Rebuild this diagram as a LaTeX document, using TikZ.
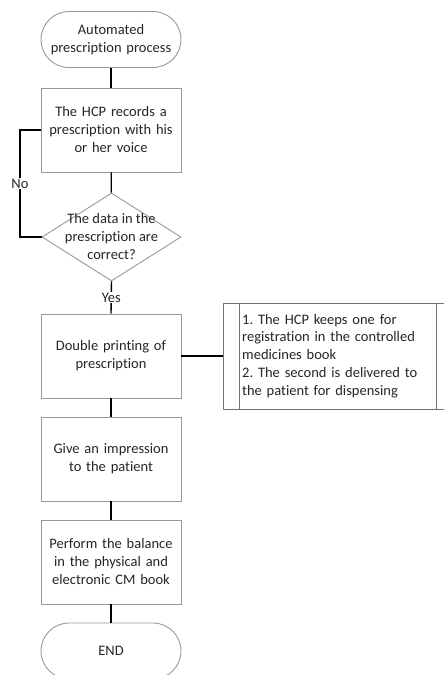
\documentclass[tikz,border=0pt]{standalone}
\usepackage{fontspec}
\setmainfont{Carlito}[Ligatures=NoCommon]
\usetikzlibrary{shapes.geometric}
\begin{document}
\frenchspacing
\begin{tikzpicture}[x=1pt,y=1pt,
  font=\fontsize{14.5}{18}\selectfont,
  every node/.style={text=black!85},
  shp/.style={draw=black!40, line width=0.9pt, fill=white, align=center, text width=132pt, inner sep=0pt},
  procbox/.style={shp, rectangle, minimum width=140pt, minimum height=84pt},
  termbox/.style={shp, rectangle, rounded corners=28pt, minimum width=140pt, minimum height=56pt},
  decbox/.style={draw=black!40, line width=0.9pt, fill=white, diamond, inner sep=0pt, minimum width=139pt, minimum height=88pt},
  conn/.style={draw=black, line width=1.4pt},
  lbl/.style={font=\fontsize{14.5}{18}\selectfont, fill=white, inner sep=1pt}
]
\useasboundingbox (0,0) rectangle (444,-675);
\clip (0,0) rectangle (444,-675);
\fill[white] (0,0) rectangle (444,-675);

\node[termbox] (start) at (111,-39.5) {Automated\\prescription process};
\node[procbox] (b1) at (111,-130) {The HCP records a\\prescription with his\\or her voice};
\node[decbox] (dia) at (111.5,-237) {};
\node[align=center, inner sep=0pt] (diatext) at (dia.center) {The data in the\\prescription are\\correct?};
\node[procbox] (b2) at (111,-356) {Double printing of\\prescription};
\node[procbox] (b3) at (111,-459) {Give an impression\\to the patient};
\node[procbox] (b4) at (111,-562) {Perform the balance\\in the physical and\\electronic CM book};
\node[termbox] (end) at (111,-651) {END};

\node[draw=black!55, line width=0.9pt, rectangle, minimum width=229pt, minimum height=106pt, inner sep=0pt] (ann) at (337.5,-356) {};
\coordinate (annl1t) at (239,-303);
\coordinate (annl1b) at (239,-409);
\coordinate (annl2t) at (436,-303);
\coordinate (annl2b) at (436,-409);
\draw[draw=black!55, line width=0.9pt] (annl1t) -- (annl1b);
\draw[draw=black!55, line width=0.9pt] (annl2t) -- (annl2b);
\node[anchor=west, align=left, text width=200pt, inner sep=0pt, font=\fontsize{14.5}{17.8}\selectfont] (anntext) at (242,-356) {1. The HCP keeps one for\\registration in the controlled\\medicines book\\2. The second is delivered to\\the patient for dispensing};

\draw[conn] (start) -- (b1);
\draw[conn] (b1) -- (dia);
\draw[conn] (dia.south) -- node[lbl, pos=0.5] (yes) {Yes} (b2.north);
\coordinate (noc1) at (20,-237);
\coordinate (noc2) at (20,-130);
\draw[conn] (dia.west) -- (noc1) -- node[lbl, pos=0.5] (no) {No} (noc2) -- (b1.west);
\draw[conn] (b2) -- (b3);
\draw[conn] (b3) -- (b4);
\draw[conn] (b4) -- (end);
\draw[conn] (b2.east) -- (ann.west);
\end{tikzpicture}
\end{document}
